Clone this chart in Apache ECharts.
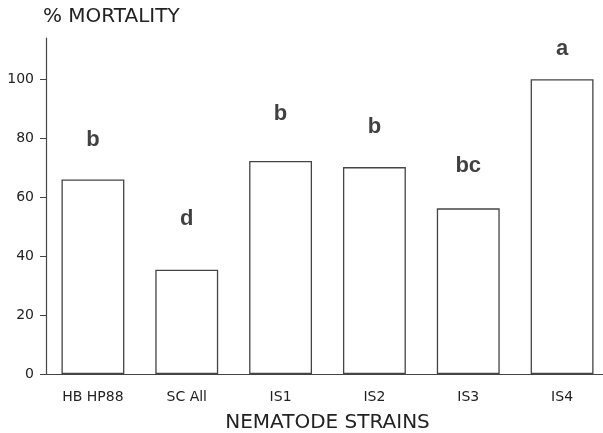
<!DOCTYPE html>
<html>
<head>
    <meta charset="utf-8" />
    <title>% Mortality by nematode strain</title>
    <script src="https://cdn.jsdelivr.net/npm/echarts@6/dist/echarts.min.js"></script>
    <style>
        html, body { margin: 0; padding: 0; background: #fff; }
    </style>
</head>
<body>
    <div id="main" style="width: 603px; height: 433px;"></div>
    <script type="text/javascript">
        // data
        var strains = ['HB HP88', 'SC All', 'IS1', 'IS2', 'IS3', 'IS4'];
        var mortality = [66, 35.4, 72.3, 70.2, 56.2, 100];
        var groupLetters = ['b', 'd', 'b', 'b', 'bc', 'a'];
        var letterHeight = [79.4, 52.7, 88.4, 83.7, 70.5, 110.2];
        var yTicks = [0, 20, 40, 60, 80, 100];

        var font = '"DejaVu Sans", sans-serif';
        var boldFont = '"Liberation Sans", Arial, Helvetica, sans-serif';
        var ink = '#222';

        var myChart = echarts.init(document.getElementById('main'));
        var option = {
            animation: false,
            backgroundColor: '#ffffff',
            grid: {
                left: 46,
                right: -6,
                top: 38,
                bottom: 59,
                outerBoundsMode: 'none'
            },
            xAxis: {
                type: 'category',
                data: strains,
                name: 'NEMATODE STRAINS',
                nameLocation: 'middle',
                nameGap: 39,
                nameTextStyle: { fontFamily: font, fontSize: 20, color: ink },
                axisLine: { lineStyle: { color: '#444', width: 1.2 } },
                axisTick: { alignWithLabel: true, length: 5, lineStyle: { color: '#444' } },
                axisLabel: { interval: 0, margin: 16, fontFamily: font, fontSize: 14, color: ink }
            },
            yAxis: {
                type: 'value',
                min: 0,
                max: 114,
                interval: 20,
                name: '% MORTALITY',
                nameLocation: 'end',
                nameGap: 11,
                nameTextStyle: { fontFamily: font, fontSize: 20, color: ink, align: 'left', padding: [0, 0, 0, -3] },
                splitLine: { show: false },
                axisLine: { show: true, lineStyle: { color: '#444', width: 1.2 } },
                axisTick: { show: true, length: 6, customValues: yTicks, lineStyle: { color: '#444' } },
                axisLabel: { margin: 12, customValues: yTicks, fontFamily: font, fontSize: 14, color: ink }
            },
            series: [
                {
                    type: 'bar',
                    data: mortality,
                    barWidth: '67%',
                    itemStyle: { color: '#ffffff', borderColor: '#444', borderWidth: 1.3 },
                    silent: true
                },
                {
                    type: 'scatter',
                    data: letterHeight,
                    symbolSize: 1,
                    itemStyle: { color: 'rgba(0,0,0,0)' },
                    label: {
                        show: true,
                        position: 'inside',
                        formatter: function (p) { return groupLetters[p.dataIndex]; },
                        fontFamily: boldFont,
                        fontWeight: 'bold',
                        fontSize: 22,
                        color: '#111'
                    },
                    silent: true
                }
            ]
        };
        myChart.setOption(option);
    </script>
</body>
</html>
